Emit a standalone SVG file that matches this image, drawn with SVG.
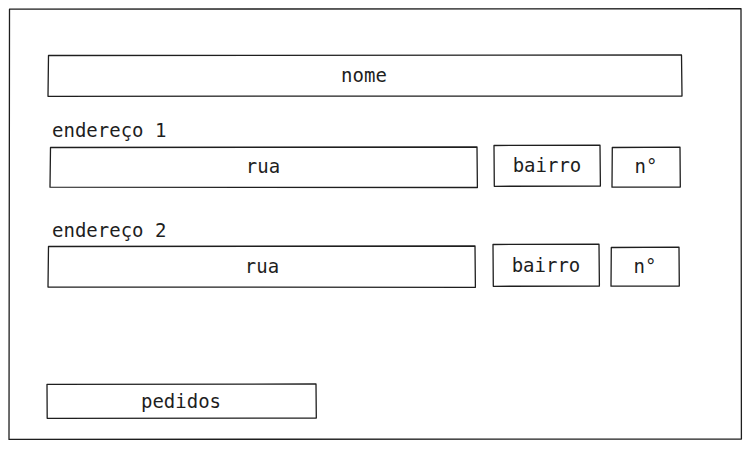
<svg xmlns="http://www.w3.org/2000/svg" width="749" height="455" viewBox="0 0 749 455">
<style>
.b{fill:#fff;stroke:#1e1e1e;stroke-width:1.3;stroke-linejoin:round}
.t{font-family:"DejaVu Sans Mono","Liberation Mono",monospace;font-size:19px;fill:#1e1e1e}
.c{text-anchor:middle}
</style>
<rect width="749" height="455" fill="#fff"/>
<g id="frame"><path class="b" d="M9.5 9.2 L741 8.6 L741.4 439 L9 439.4 Z"/></g>
<g id="nome"><path class="b" d="M48.5 55.5 L681.5 55 L682 96 L48 96.3 Z"/><text class="t c" x="364" y="82">nome</text></g>
<g id="lbl-end1"><text class="t" x="52" y="137">endereço 1</text></g>
<g id="rua1"><path class="b" d="M50.5 147.5 L477 147 L477.4 187.5 L50 187.2 Z"/><text class="t c" x="263" y="173">rua</text></g>
<g id="bairro1"><path class="b" d="M494 145.5 L600 145.2 L600.4 186 L494.3 186.3 Z"/><text class="t c" x="547" y="172">bairro</text></g>
<g id="num1"><path class="b" d="M612.3 147.5 L680 147.2 L680.3 187 L612 187.2 Z"/><text class="t c" x="646" y="173">n°</text></g>
<g id="lbl-end2"><text class="t" x="52" y="237">endereço 2</text></g>
<g id="rua2"><path class="b" d="M48.5 246.5 L475 246 L475.4 287.3 L48 287 Z"/><text class="t c" x="262" y="273">rua</text></g>
<g id="bairro2"><path class="b" d="M493 244.5 L599 244.2 L599.4 286 L493.3 286.3 Z"/><text class="t c" x="546" y="272">bairro</text></g>
<g id="num2"><path class="b" d="M611.3 247.5 L679 247.2 L679.3 286 L611 286.2 Z"/><text class="t c" x="645" y="273">n°</text></g>
<g id="pedidos"><path class="b" d="M47 384.3 L316 384 L316.3 418 L47.2 418.3 Z"/><text class="t c" x="181" y="408">pedidos</text></g>
<g id="connectors"></g>
</svg>
